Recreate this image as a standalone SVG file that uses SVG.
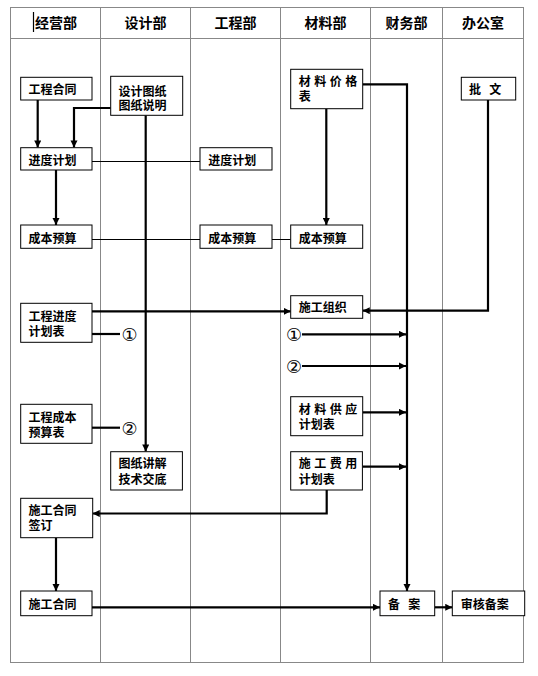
<svg xmlns="http://www.w3.org/2000/svg" width="538" height="676" viewBox="0 0 538 676">
<style>
.grid{stroke:#888;stroke-width:1;fill:none}
.box{fill:#fff;stroke:#000;stroke-width:1}
.t{font-family:"Noto Sans CJK SC","DejaVu Sans",sans-serif;font-size:12px;font-weight:bold;fill:#000;dominant-baseline:central}
.h{font-family:"Noto Sans CJK SC","DejaVu Sans",sans-serif;font-size:14px;font-weight:bold;fill:#000;text-anchor:middle;dominant-baseline:central}
.c{font-family:"DejaVu Sans","Noto Sans CJK SC",sans-serif;font-size:18px;fill:#000;text-anchor:middle;dominant-baseline:central}
.thick{stroke:#000;stroke-width:2.2;fill:none}
.thin{stroke:#000;stroke-width:1;fill:none}
</style>
<defs>
<marker id="arr" viewBox="0 0 10 10" refX="10" refY="5" markerWidth="3.2" markerHeight="3.2" orient="auto" markerUnits="strokeWidth">
<path d="M0,0 L10,5 L0,10 z" fill="#000"/>
</marker>
</defs>
<rect width="538" height="676" fill="#fff"/>
<g id="table">
<rect class="grid" x="10.5" y="7.5" width="513" height="655"/>
<line class="grid" x1="10.5" y1="38.5" x2="523.5" y2="38.5"/>
<line class="grid" x1="100.5" y1="7.5" x2="100.5" y2="662.5"/>
<line class="grid" x1="190.5" y1="7.5" x2="190.5" y2="662.5"/>
<line class="grid" x1="280.5" y1="7.5" x2="280.5" y2="662.5"/>
<line class="grid" x1="370.5" y1="7.5" x2="370.5" y2="662.5"/>
<line class="grid" x1="442.5" y1="7.5" x2="442.5" y2="662.5"/>
<line x1="33.5" y1="12" x2="33.5" y2="32" stroke="#000" stroke-width="1.2"/>
<text class="h" x="56" y="22">经营部</text>
<text class="h" x="145.5" y="22">设计部</text>
<text class="h" x="235.5" y="22">工程部</text>
<text class="h" x="325.5" y="22">材料部</text>
<text class="h" x="406.5" y="22">财务部</text>
<text class="h" x="483" y="22">办公室</text>
</g>
<g id="connectors">
<line class="thick" x1="37.7" y1="100" x2="37.7" y2="147.5" marker-end="url(#arr)"/>
<polyline class="thick" points="110.7,108 74,108 74,147.5" marker-end="url(#arr)"/>
<line class="thick" x1="145.7" y1="115.3" x2="145.7" y2="451.5" marker-end="url(#arr)"/>
<line class="thin" x1="92" y1="161.5" x2="200" y2="161.5"/>
<line class="thick" x1="56" y1="170" x2="56" y2="225" marker-end="url(#arr)"/>
<line class="thin" x1="92" y1="239.5" x2="200" y2="239.5"/>
<line class="thin" x1="272" y1="239.5" x2="290.7" y2="239.5"/>
<line class="thick" x1="326.3" y1="108.7" x2="326.3" y2="225" marker-end="url(#arr)"/>
<polyline class="thick" points="362.7,84.3 407,84.3 407,591" marker-end="url(#arr)"/>
<polyline class="thick" points="488,100 488,310.7 362.7,310.7" marker-end="url(#arr)"/>
<line class="thick" x1="92" y1="311.3" x2="290.7" y2="311.3" marker-end="url(#arr)"/>
<line class="thick" x1="92" y1="334" x2="120" y2="334"/>
<line class="thick" x1="92" y1="427.7" x2="120" y2="427.7"/>
<line class="thick" x1="302" y1="334.3" x2="406" y2="334.3" marker-end="url(#arr)"/>
<line class="thick" x1="302" y1="366" x2="406" y2="366" marker-end="url(#arr)"/>
<line class="thick" x1="362.7" y1="412.3" x2="406" y2="412.3" marker-end="url(#arr)"/>
<line class="thick" x1="362.7" y1="466.7" x2="406" y2="466.7" marker-end="url(#arr)"/>
<polyline class="thick" points="326.7,490 326.7,513.5 92.7,513.5" marker-end="url(#arr)"/>
<line class="thick" x1="56" y1="537.7" x2="56" y2="591" marker-end="url(#arr)"/>
<line class="thick" x1="92" y1="607.3" x2="380" y2="607.3" marker-end="url(#arr)"/>
<line class="thick" x1="434.7" y1="607.3" x2="452.3" y2="607.3" marker-end="url(#arr)"/>
<text class="c" x="129.5" y="334">①</text>
<text class="c" x="129.5" y="428">②</text>
<text class="c" x="294" y="334.3">①</text>
<text class="c" x="294" y="366">②</text>
</g>
<g id="n-gchht"><rect class="box" x="20.7" y="77.3" width="71.3" height="22.7"/><text class="t" x="28.5" y="88.7">工程合同</text></g>
<g id="n-sjtz"><rect class="box" x="110.7" y="76.3" width="72" height="39"/><text class="t" x="118.5" y="90">设计图纸<tspan x="118.5" dy="14">图纸说明</tspan></text></g>
<g id="n-cljgb"><rect class="box" x="290.7" y="69.3" width="72" height="39.4"/><text class="t" x="298.7" y="80" letter-spacing="3.5">材料价格<tspan x="298.7" dy="14.5">表</tspan></text></g>
<g id="n-pw"><rect class="box" x="461.3" y="77.3" width="54.4" height="22.7"/><text class="t" x="469" y="88.7" xml:space="preserve">批   文</text></g>
<g id="n-jdjh1"><rect class="box" x="20.7" y="147.7" width="71.3" height="22.3"/><text class="t" x="28.5" y="159">进度计划</text></g>
<g id="n-jdjh2"><rect class="box" x="200" y="147.7" width="72" height="22.3"/><text class="t" x="208.3" y="159">进度计划</text></g>
<g id="n-cbys1"><rect class="box" x="20.7" y="225" width="71.3" height="23.3"/><text class="t" x="28.5" y="237">成本预算</text></g>
<g id="n-cbys2"><rect class="box" x="200" y="225" width="72" height="23.3"/><text class="t" x="208.3" y="237">成本预算</text></g>
<g id="n-cbys3"><rect class="box" x="290.7" y="225" width="72" height="23.3"/><text class="t" x="298.7" y="237">成本预算</text></g>
<g id="n-gcjdjhb"><rect class="box" x="20.7" y="303.3" width="71.3" height="39"/><text class="t" x="28.5" y="315">工程进度<tspan x="28.5" dy="15">计划表</tspan></text></g>
<g id="n-sgzz"><rect class="box" x="290.7" y="295.7" width="72" height="22.6"/><text class="t" x="298.7" y="306.8">施工组织</text></g>
<g id="n-gccbysb"><rect class="box" x="20.7" y="404.3" width="71.3" height="39"/><text class="t" x="28.5" y="416">工程成本<tspan x="28.5" dy="15">预算表</tspan></text></g>
<g id="n-clgyjhb"><rect class="box" x="290.7" y="396.7" width="72" height="39"/><text class="t" x="298.7" y="408" letter-spacing="3.5">材料供应<tspan x="298.7" dy="15.3" letter-spacing="0">计划表</tspan></text></g>
<g id="n-tzjj"><rect class="box" x="110.7" y="451.7" width="71.7" height="38.3"/><text class="t" x="118.5" y="462.7">图纸讲解<tspan x="118.5" dy="15">技术交底</tspan></text></g>
<g id="n-sgfyjhb"><rect class="box" x="290.7" y="451.7" width="71.7" height="38.3"/><text class="t" x="298.7" y="462.7" letter-spacing="3.5">施工费用<tspan x="298.7" dy="15" letter-spacing="0">计划表</tspan></text></g>
<g id="n-sghtqd"><rect class="box" x="20.7" y="498.3" width="72" height="39.4"/><text class="t" x="28.5" y="509.5">施工合同<tspan x="28.5" dy="14.8">签订</tspan></text></g>
<g id="n-sght"><rect class="box" x="20.7" y="591" width="71.3" height="24.7"/><text class="t" x="28.5" y="603">施工合同</text></g>
<g id="n-ba"><rect class="box" x="380" y="591" width="54.7" height="24.7"/><text class="t" x="388" y="603.3" xml:space="preserve">备   案</text></g>
<g id="n-shba"><rect class="box" x="452.3" y="591" width="72.4" height="24.7"/><text class="t" x="460.7" y="603.3">审核备案</text></g>
</svg>
